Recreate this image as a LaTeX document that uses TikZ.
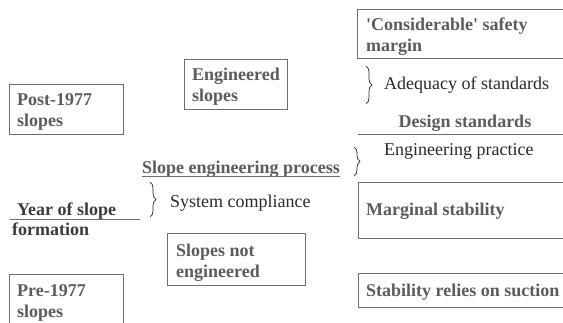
\documentclass[tikz,border=0pt]{standalone}
\usepackage{fontspec}
\setmainfont{Liberation Serif}
\usetikzlibrary{decorations.pathreplacing}
\definecolor{gtext}{HTML}{5C5C5C}
\definecolor{dtext}{HTML}{2A2A2A}
\definecolor{ytext}{HTML}{3C3C3C}
\definecolor{bline}{HTML}{6E6E6E}
\newcommand{\sq}{{\XeTeXglyph\XeTeXcharglyph"27\relax}}
\tikzset{
  box/.style={draw=bline, line width=0.8pt, inner sep=0pt, anchor=north west},
  btxt/.style={anchor=base west, inner sep=0pt, text=gtext, font=\fontsize{18}{21}\selectfont\bfseries},
  ytxt/.style={anchor=base west, inner sep=0pt, text=ytext, font=\fontsize{18}{21}\selectfont\bfseries},
  rtxt/.style={anchor=base west, inner sep=0pt, text=dtext, font=\fontsize{18}{21}\selectfont},
  rule/.style={draw=bline, line width=0.8pt},
  bracestyle/.style={draw=dtext, line width=0.7pt, decorate, decoration={brace, amplitude=6pt}},
}
\begin{document}
\begin{tikzpicture}[x=1pt,y=-1pt]
\clip (0,0) rectangle (563,322);
\fill[white] (0,0) rectangle (563,322);
% boxes
\node[box, minimum width=114pt, minimum height=50pt] (post) at (9,84) {};
\node[box, minimum width=103pt, minimum height=50pt] (eng) at (184,59) {};
\node[box, minimum width=220pt, minimum height=49pt] (cons) at (357,9) {};
\node[box, minimum width=138pt, minimum height=52pt] (notEng) at (167,233) {};
\node[box, minimum width=114pt, minimum height=60pt] (pre) at (9,274) {};
\node[box, minimum width=220pt, minimum height=56pt] (marg) at (358,182) {};
\node[box, minimum width=220pt, minimum height=34pt] (suct) at (358,273) {};
% box texts
\node[btxt] (postA) at (17,105) {Post-1977};
\node[btxt] (postB) at (17,126) {slopes};
\node[btxt] (engA) at (192,80) {Engineered};
\node[btxt] (engB) at (192,101) {slopes};
\node[btxt] (consA) at (366,30) {\sq Considerable\sq{} safety};
\node[btxt] (consB) at (366,51) {margin};
\node[btxt] (notA) at (176,256) {Slopes not};
\node[btxt] (notB) at (176,277) {engineered};
\node[btxt] (preA) at (17,296) {Pre-1977};
\node[btxt] (preB) at (17,317) {slopes};
\node[btxt] (margT) at (366,215) {Marginal stability};
\node[btxt] (suctT) at (366,296) {Stability relies on suction};
% headings
\node[btxt, anchor=base] (design) at (465,127) {Design standards};
\coordinate (dL) at (358,134);
\coordinate (dR) at (563,134);
\draw[rule] (dL) -- (dR);
\node[btxt] (sep) at (142,173) {Slope engineering process};
\draw[rule] (sep.base west) ++(0,3.5) -- ++(198,0);
\node[ytxt] (yearA) at (17,215) {Year of slope};
\node[ytxt] (yearB) at (12,235) {formation};
\coordinate (yL) at (10,219);
\coordinate (yR) at (140,219);
\draw[rule] (yL) -- (yR);
% braces and labels
\coordinate (b1t) at (366,66);
\coordinate (b1b) at (366,104);
\draw[bracestyle] (b1t) -- (b1b);
\node[rtxt] (adeq) at (384,89) {Adequacy of standards};
\coordinate (b2t) at (354,147);
\coordinate (b2b) at (354,176);
\draw[bracestyle] (b2t) -- (b2b);
\node[rtxt] (engp) at (384,155) {Engineering practice};
\coordinate (b3t) at (150,182);
\coordinate (b3b) at (150,217);
\draw[bracestyle] (b3t) -- (b3b);
\node[rtxt] (sysc) at (170,207) {System compliance};
\end{tikzpicture}
\end{document}
